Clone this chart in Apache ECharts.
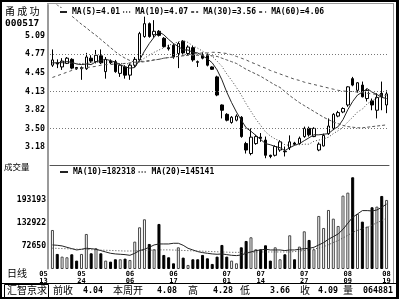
<!DOCTYPE html>
<html><head><meta charset="utf-8">
<script src="https://cdn.jsdelivr.net/npm/echarts@6/dist/echarts.min.js"></script>
<style>html,body{margin:0;padding:0;background:#fff}#c{width:400px;height:300px}</style>
</head><body><div id="c"></div>
<script>
// ---------- data ----------
const categories = Array.from({length: 70}, (_, i) => 'D' + (i + 1));
const open  = [4.58,4.62,4.55,4.61,4.68,4.54,4.52,4.52,4.70,4.64, 4.74,4.47,4.65,4.64,4.44,4.55,4.41,4.58,4.67,5.07, 5.29,5.10,5.16,5.04,4.88,4.92,4.78,4.99,4.78,4.88, 4.64,4.75,4.75,4.55,4.38,3.90,3.74,3.60,3.64,3.69, 3.24,3.07,3.24,3.35,3.30,3.04,3.04,3.13,3.11,3.17, 3.25,3.24,3.36,3.50,3.36,3.13,3.20,3.41,3.50,3.71, 3.78,3.90,4.35,4.15,4.24,4.01,3.97,3.81,4.10,3.90];
const close = [4.67,4.60,4.65,4.70,4.53,4.52,4.54,4.72,4.65,4.75, 4.62,4.68,4.62,4.47,4.58,4.41,4.58,4.68,5.12,5.29, 5.07,5.16,5.09,4.90,4.86,4.72,4.95,4.79,4.89,4.67, 4.63,4.70,4.58,4.51,4.07,3.81,3.64,3.69,3.71,3.36, 3.13,3.35,3.36,3.33,3.04,3.02,3.19,3.27,3.10,3.27, 3.23,3.33,3.50,3.39,3.50,3.23,3.38,3.54,3.74,3.77, 3.84,4.21,4.24,4.28,4.04,4.15,3.90,4.03,4.04,4.09];
const high  = [4.85,4.68,4.70,4.72,4.70,4.55,4.56,4.79,4.75,4.84, 4.85,4.72,4.68,4.67,4.61,4.58,4.61,4.72,5.15,5.41, 5.31,5.35,5.18,5.06,4.93,4.94,4.98,5.01,4.92,4.91, 4.66,4.80,4.78,4.56,4.40,3.91,3.76,3.71,3.74,3.71, 3.27,3.50,3.39,3.42,3.36,3.05,3.21,3.30,3.19,3.38, 3.27,3.36,3.53,3.53,3.52,3.26,3.41,3.67,3.76,3.80, 3.86,4.22,4.38,4.29,4.30,4.18,4.01,4.10,4.30,4.15];
const low   = [4.55,4.53,4.50,4.60,4.51,4.50,4.33,4.50,4.62,4.61, 4.60,4.35,4.60,4.45,4.38,4.35,4.33,4.55,4.64,5.05, 5.05,5.05,5.07,4.88,4.83,4.69,4.53,4.77,4.75,4.64, 4.55,4.68,4.56,4.50,4.05,3.67,3.62,3.58,3.62,3.34, 3.07,3.04,3.22,3.27,2.99,2.99,3.02,3.10,3.02,3.13, 3.21,3.22,3.34,3.36,3.35,3.11,3.19,3.39,3.47,3.69, 3.76,3.87,4.22,4.11,4.03,3.96,3.81,3.67,3.81,3.76];
const ma5   = [4.62,4.62,4.63,4.64,4.63,4.60,4.59,4.60,4.59,4.64, 4.66,4.68,4.66,4.63,4.59,4.55,4.53,4.54,4.67,4.82, 4.95,5.06,5.15,5.10,5.02,4.95,4.90,4.84,4.84,4.80, 4.79,4.74,4.69,4.62,4.50,4.33,4.12,3.94,3.78,3.64, 3.51,3.45,3.38,3.31,3.24,3.22,3.19,3.17,3.12,3.17, 3.21,3.24,3.29,3.34,3.39,3.39,3.40,3.41,3.48,3.53, 3.65,3.82,3.96,4.07,4.12,4.18,4.12,4.08,4.03,4.01];
const ma10  = [4.62,4.62,4.62,4.61,4.61,4.61,4.61,4.61,4.62,4.63, 4.63,4.64,4.63,4.61,4.61,4.61,4.60,4.60,4.65,4.70, 4.75,4.80,4.84,4.88,4.92,4.95,4.98,5.00,4.97,4.91, 4.87,4.82,4.77,4.73,4.65,4.56,4.43,4.32,4.20,4.07, 3.92,3.79,3.66,3.55,3.44,3.37,3.32,3.28,3.22,3.21, 3.22,3.22,3.23,3.23,3.28,3.30,3.32,3.35,3.41,3.46, 3.52,3.61,3.69,3.78,3.83,3.92,3.97,4.02,4.05,4.07];
const ma30  = [5.68,5.61,5.55,5.48,5.42,5.35,5.28,5.22,5.15,5.09, 5.02,4.95,4.88,4.81,4.75,4.70,4.66,4.63,4.63,4.64, 4.65,4.67,4.68,4.70,4.71,4.72,4.73,4.74,4.75,4.75, 4.75,4.75,4.75,4.74,4.73,4.70,4.67,4.64,4.61,4.56, 4.51,4.47,4.43,4.39,4.34,4.29,4.24,4.20,4.13,4.06, 4.00,3.94,3.89,3.84,3.79,3.74,3.69,3.65,3.61,3.58, 3.55,3.53,3.52,3.51,3.51,3.52,3.53,3.54,3.55,3.56];
const ma60  = [4.37,4.40,4.43,4.46,4.49,4.52,4.53,4.54,4.55,4.56, 4.58,4.59,4.59,4.60,4.60,4.61,4.62,4.63,4.64,4.65, 4.66,4.67,4.68,4.70,4.71,4.72,4.73,4.75,4.76,4.77, 4.78,4.79,4.79,4.80,4.80,4.79,4.78,4.76,4.73,4.70, 4.67,4.63,4.60,4.56,4.53,4.49,4.46,4.43,4.40,4.37, 4.34,4.32,4.29,4.27,4.25,4.23,4.21,4.19,4.17,4.15, 4.14,4.13,4.13,4.12,4.11,4.10,4.09,4.08,4.07,4.06];
const volume = [114000,50800,43700,42000,49900,33200,50800,103500,52500,65700, 52500,33200,30500,36700,36700,38400,34900,83300,121100,142200, 77100,63100,129900,48100,42000,26100,68300,41100,21700,36700, 36700,48100,39300,24400,43700,74500,43700,33200,26100,68300, 85000,94700,63100,63100,73600,33200,68300,36700,49900,100000, 36700,70100,110500,87700,63100,151000,119300,166800,143900,124600, 204600,212500,253000,156300,136000,122900,173900,175600,203700,193200];
const vma10 = [74500,73600,71900,68300,64800,61300,63100,65700,64800,63100, 59600,56000,52500,50800,49900,49000,47200,52500,59600,63100, 68300,74500,77100,77100,77100,78900,78900,73600,65700,61300, 56900,54300,52500,50800,49900,50800,49000,47200,46400,48100, 52500,56000,59600,61300,63100,61300,61300,61300,59600,61300, 61300,63100,64800,65700,68300,74500,80700,89500,96400,103500, 115800,131700,147500,156300,165100,165100,164200,166800,173900,182318];
const vma20 = [66000,65500,65000,64500,64000,63500,63000,62500,62000,61500, 61000,60500,60000,59500,59000,58500,58500,59000,59500,60000, 60500,61000,61500,61500,61500,61000,60500,60000,59500,59000, 58500,58000,57500,57000,56500,56000,55500,55000,55000,55000, 55000,55500,56000,56000,56000,56000,56000,56000,56000,56000, 57000,58500,60000,62000,64000,66000,70000,75000,81000,86000, 93000,100000,108000,113000,117000,121000,127000,133000,139000,145141];
const priceTicks = [5.09, 4.77, 4.45, 4.13, 3.82, 3.50, 3.18];
const priceGridLines = [4.77, 4.13, 3.50];
const volumeTicks = [193193, 132922, 72650];
const dateTickIndex = [0, 6, 16, 25, 36, 43, 52, 61, 69];
const dateTickText = ['05\n13','05\n24','06\n06','06\n17','07\n01','07\n14','07\n27','08\n09','08\n19'];
const statusLabels = ['前收', '本周开', '高', '低', '收', '量'];
const statusValues = ['4.04', '4.08', '4.28', '3.66', '4.09', '064881'];

// ---------- chart ----------
const MONO = 'DejaVu Sans Mono';
const CJK = 'Noto Sans CJK SC';
const chart = echarts.init(document.getElementById('c'), null, {renderer: 'canvas'});
const candleData = categories.map((_, i) => [open[i], close[i], low[i], high[i]]);
const volData = volume.map((v, i) => ({
  value: v,
  itemStyle: close[i] >= open[i]
    ? {color: '#fff', borderColor: '#444', borderWidth: 1}
    : {color: '#000', borderColor: '#000', borderWidth: 1}
}));
const priceMA = {'MA(5)': ma5, 'MA(10)': ma10, 'MA(30)': ma30, 'MA(60)': ma60};
const volMA = {'VMA10': ['MA(10)', vma10], 'VMA20': ['MA(20)', vma20]};
const last = a => a[a.length - 1];

const lineS = (name, data, x, y, color, type) => ({
  name, type: 'line', data, xAxisIndex: x, yAxisIndex: y, symbol: 'none', showSymbol: false,
  lineStyle: {color, width: 1, type}, itemStyle: {color}, silent: true, z: 3
});

// status bar text
const statusX = [[53, 83], [113, 157], [188, 213], [240, 270], [300, 318], [343, 363]];
const statusGraphics = [];
statusLabels.forEach((t, k) => {
  statusGraphics.push({type: 'text', left: statusX[k][0], top: 285, style: {text: t, font: '10px "' + CJK + '"', fill: '#000'}});
  statusGraphics.push({type: 'text', left: statusX[k][1], top: 287, style: {text: statusValues[k], font: 'bold 8.3px "' + MONO + '"', fill: '#000'}});
});

const legendCommon = {padding: 0, itemGap: 2, itemStyle: {opacity: 0}, inactiveColor: '#000'};

chart.setOption({
  animation: false,
  backgroundColor: '#fff',
  grid: [
    {left: 50, right: 11, top: 5, height: 160},
    {left: 50, right: 11, top: 165, height: 103.5}
  ],
  legend: [
    Object.assign({data: ['MA(5)', 'MA(10)', 'MA(30)', 'MA(60)'], left: 59, top: 8, itemWidth: 7, itemHeight: 8,
     backgroundColor: '#fff',
     textStyle: {fontFamily: MONO, fontWeight: 'bold', fontSize: 8, color: '#000'},
     formatter: n => n + '=' + last(priceMA[n]).toFixed(2)}, legendCommon),
    Object.assign({data: ['VMA10', 'VMA20'], left: 59, top: 168, itemWidth: 8, itemHeight: 8,
     textStyle: {fontFamily: MONO, fontWeight: 'bold', fontSize: 8, color: '#000'},
     formatter: n => volMA[n][0] + '=' + last(volMA[n][1])}, legendCommon)
  ],
  xAxis: [
    {type: 'category', data: categories, gridIndex: 0, boundaryGap: true,
     axisLine: {show: true, lineStyle: {color: '#555', width: 1}}, axisTick: {show: false}, axisLabel: {show: false}, splitLine: {show: false}},
    {type: 'category', data: categories, gridIndex: 1, boundaryGap: true,
     axisLine: {show: false}, axisTick: {show: false}, splitLine: {show: false},
     axisLabel: {
       show: true, margin: 2,
       interval: idx => dateTickIndex.indexOf(idx) >= 0,
       formatter: (v, idx) => {
         const k = dateTickIndex.indexOf(idx);
         if (k < 0) return '';
         const parts = dateTickText[k].split('\n');
         const st = k === 0 ? 'f' : 'n';
         return '{' + st + '|' + parts[0] + '}\n{' + st + '|' + parts[1] + '}';
       },
       rich: {
         n: {fontFamily: MONO, fontWeight: 'bold', fontSize: 7, lineHeight: 7, color: '#000'},
         f: {fontFamily: MONO, fontWeight: 'bold', fontSize: 7, lineHeight: 7, color: '#000', padding: [0, 18, 0, 0]}
       }
     }}
  ],
  yAxis: [
    {type: 'value', gridIndex: 0, min: 2.874, max: 5.609, offset: 2, scale: true,
     axisLine: {show: true, lineStyle: {color: '#9a9a9a', width: 2}}, axisTick: {show: false}, splitLine: {show: false},
     axisLabel: {customValues: priceTicks, formatter: v => v.toFixed(2), margin: 3,
                 fontFamily: MONO, fontWeight: 'bold', fontSize: 8.3, color: '#000'}},
    {type: 'value', gridIndex: 1, min: 12379, max: 285384, offset: 2,
     axisLine: {show: true, lineStyle: {color: '#9a9a9a', width: 2}}, axisTick: {show: false}, splitLine: {show: false},
     axisLabel: {customValues: volumeTicks, formatter: v => String(Math.round(v)), margin: 2,
                 fontFamily: MONO, fontWeight: 'bold', fontSize: 8.1, color: '#000'}}
  ],
  series: [
    {name: 'K', type: 'candlestick', data: candleData, xAxisIndex: 0, yAxisIndex: 0, barWidth: 3,
     itemStyle: {color: '#fff', color0: '#000', borderColor: '#000', borderColor0: '#000', borderWidth: 1},
     markLine: {silent: true, symbol: 'none', label: {show: false},
                lineStyle: {color: '#777', type: [1, 2], width: 1},
                data: priceGridLines.map(v => ({yAxis: v}))}, z: 2},
    lineS('MA(5)', ma5, 0, 0, '#222', 'solid'),
    lineS('MA(10)', ma10, 0, 0, '#444', [1, 2]),
    lineS('MA(30)', ma30, 0, 0, '#555', [3, 2]),
    lineS('MA(60)', ma60, 0, 0, '#555', [3, 3]),
    {name: 'VOL', type: 'bar', data: volData, xAxisIndex: 1, yAxisIndex: 1, barWidth: 3, z: 2},
    lineS('VMA10', vma10, 1, 1, '#222', 'solid'),
    lineS('VMA20', vma20, 1, 1, '#444', [1, 2])
  ],
  graphic: [
    {type: 'rect', shape: {x: 1, y: 1, width: 397, height: 297}, style: {stroke: '#000', lineWidth: 2, fill: null}, z: 100, silent: true},
    {type: 'line', shape: {x1: 47, y1: 3.5, x2: 394, y2: 3.5}, style: {stroke: '#9a9a9a', lineWidth: 1}, z: 100},
    {type: 'line', shape: {x1: 393.5, y1: 3, x2: 393.5, y2: 283}, style: {stroke: '#9a9a9a', lineWidth: 1}, z: 100},
    {type: 'line', shape: {x1: 396.5, y1: 1, x2: 396.5, y2: 299}, style: {stroke: '#000', lineWidth: 1}, z: 100},
    {type: 'line', shape: {x1: 1, y1: 283.5, x2: 398, y2: 283.5}, style: {stroke: '#000', lineWidth: 1}, z: 100},
    {type: 'rect', shape: {x: 4.5, y: 284.5, width: 44, height: 13}, style: {stroke: '#000', lineWidth: 1, fill: null}, z: 100},
    {type: 'text', left: 5, top: 6, style: {text: '甬 成 功', font: '10px "' + CJK + '"', fill: '#000'}},
    {type: 'text', left: 5, top: 19, style: {text: '000517', font: 'bold 9.5px "' + MONO + '"', fill: '#000'}},
    {type: 'text', left: 4, top: 163, style: {text: '成交量', font: '8.5px "' + CJK + '"', fill: '#000'}},
    {type: 'text', left: 7, top: 268, style: {text: '日线', font: '10px "' + CJK + '"', fill: '#000'}},
    {type: 'text', left: 7, top: 285, style: {text: '汇智京求', font: '10px "' + CJK + '"', fill: '#000'}}
  ].concat(statusGraphics)
});
</script>
</body></html>
